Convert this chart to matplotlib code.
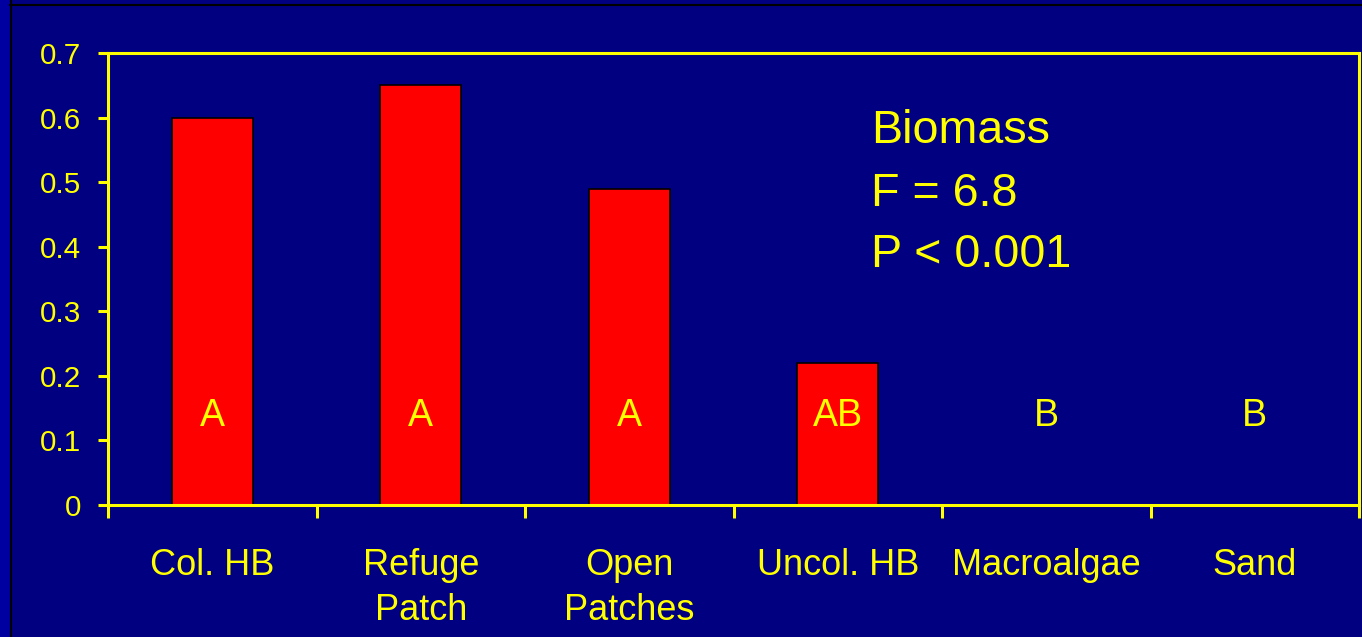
import numpy as np
import matplotlib.pyplot as plt
from matplotlib.patches import Rectangle
from matplotlib.lines import Line2D

# Biomass by habitat type, with post-hoc grouping letters
habitats = ["Col. HB", "Refuge\nPatch", "Open\nPatches", "Uncol. HB", "Macroalgae", "Sand"]
biomass = [0.60, 0.65, 0.49, 0.22, 0.0, 0.0]
groups = ["A", "A", "A", "AB", "B", "B"]
stats_lines = ["Biomass", "F = 6.8", "P < 0.001"]

navy = "#000080"
yellow = "#FFFF00"

plt.rcParams["font.family"] = ["Liberation Sans", "DejaVu Sans"]

fig = plt.figure(figsize=(13.62, 6.37), dpi=100)
fig.patch.set_facecolor(navy)

# slide frame: lighter strip on the left and thin black rules
fig.patches.append(Rectangle((0, 0), 10 / 1362, 1, transform=fig.transFigure,
                             facecolor="#0000A0", edgecolor="none", zorder=0))
fig.lines.append(Line2D([10.5 / 1362] * 2, [0, 1], transform=fig.transFigure,
                        color="black", lw=1.5))
fig.lines.append(Line2D([10 / 1362, 1], [1 - 4.5 / 637] * 2, transform=fig.transFigure,
                        color="black", lw=1.5))

ax = fig.add_axes([108 / 1362, 132 / 637, 1251 / 1362, 452 / 637])
ax.set_facecolor(navy)

x = np.arange(len(habitats))
ax.bar(x, biomass, width=0.39, color="#FF0000", edgecolor="black", linewidth=1.2, zorder=2)

for xi, g in zip(x, groups):
    ax.text(xi, 0.138, g, color=yellow, fontsize=27, ha="center", va="center", zorder=3)

for line, yb in zip(stats_lines, [0.561, 0.463, 0.369]):
    ax.text(3.16, yb, line, color=yellow, fontsize=33.6, ha="left", va="baseline")

ax.set_xlim(-0.5, len(habitats) - 0.5)
ax.set_ylim(0, 0.7)
ax.set_yticks(np.arange(0, 0.71, 0.1))
ax.set_yticklabels(["0"] + [f"{v:.1f}" for v in np.arange(0.1, 0.71, 0.1)])

ax.set_xticks(x)
ax.set_xticklabels(habitats, linespacing=1.38)
ax.set_xticks(np.arange(-0.5, len(habitats)), minor=True)

for s in ax.spines.values():
    s.set_color(yellow)
    s.set_linewidth(2.2)

ax.tick_params(axis="y", colors=yellow, labelsize=21.3, length=7.5, width=2.2, pad=12)
ax.tick_params(axis="x", which="major", colors=yellow, labelsize=26, length=0, pad=31)
ax.tick_params(axis="x", which="minor", colors=yellow, length=9, width=2.2)

plt.savefig("out.png", dpi=100, facecolor=fig.get_facecolor())
